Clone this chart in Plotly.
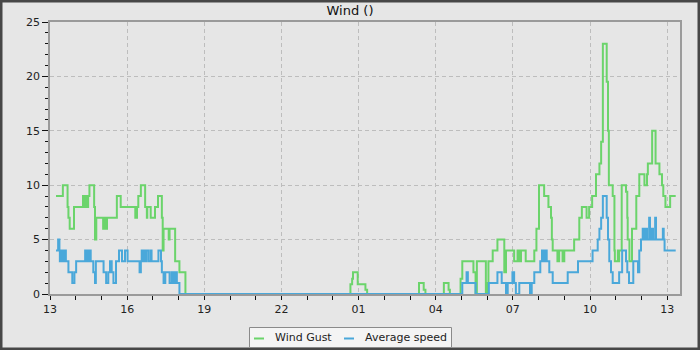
import plotly.graph_objects as go

D1 = "2024-01-01 "
D2 = "2024-01-02 "

gust_times = [D1 + t for t in [
    "13:14", "13:30", "13:41", "13:43", "13:46", "13:56", "14:17", "14:21", "14:23", "14:26",
    "14:29", "14:32", "14:43", "14:45", "14:48", "15:04", "15:07", "15:11", "15:13", "15:36",
    "15:45", "16:19", "16:23", "16:26", "16:32", "16:42", "16:46", "16:47", "16:55", "17:05",
    "17:12", "17:21", "17:23", "17:25", "17:37", "17:39", "17:52", "18:02", "18:16"]] + [D2 + t for t in [
    "00:41", "00:45", "00:47", "00:58", "01:16", "01:20", "03:21", "03:32", "03:36", "04:19",
    "04:30", "04:33", "04:58", "05:02", "05:28", "05:33", "05:36", "05:57", "06:01", "06:03",
    "06:13", "06:24", "06:40", "06:44", "07:03", "07:11", "07:15", "07:19", "07:30", "07:50",
    "07:55", "08:01", "08:13", "08:23", "08:29", "08:31", "08:33", "08:44", "08:48", "08:56",
    "09:00", "09:23", "09:35", "09:41", "09:52", "09:58", "10:05", "10:14", "10:22", "10:26",
    "10:30", "10:39", "10:42", "10:44", "10:53", "10:57", "10:58", "11:05", "11:07", "11:08",
    "11:14", "11:24", "11:27", "11:28", "11:32", "11:38", "11:48", "11:55", "12:07", "12:13",
    "12:15", "12:25", "12:33", "12:42", "12:48", "12:51", "12:56", "13:07", "13:20"]]
gust_values = [
    9, 10, 8, 7, 6, 8, 9, 8, 9, 8,
    9, 10, 8, 5, 7, 6, 7, 6, 7, 9,
    8, 7, 8, 9, 10, 8, 7, 8, 7, 8,
    9, 7, 4, 6, 5, 6, 3, 2, 0,
    0.9, 1.4, 2, 0.9, 0.4, 0, 1, 0.4, 0, 1,
    0.4, 0, 1.4, 3, 2, 0, 3, 0, 1, 3,
    4, 5, 2, 4, 3, 4, 3, 4, 3, 4,
    6, 10, 9, 8, 7, 5, 4, 3, 4, 3,
    4, 5, 7, 8, 7, 8, 9, 11, 12, 14,
    23, 19.5, 15, 10, 9, 4, 3, 4, 3, 4,
    10, 9.4, 7, 5, 3, 6, 9, 11, 10, 11,
    12, 15, 12, 11, 10, 9, 8, 9, 9]

avg_times = [D1 + t for t in [
    "13:14", "13:19", "13:22", "13:23", "13:26", "13:29", "13:32", "13:34", "13:36", "13:37",
    "13:43", "13:52", "13:57", "14:01", "14:22", "14:24", "14:26", "14:29", "14:31", "14:35",
    "14:41", "14:45", "14:47", "15:05", "15:11", "15:16", "15:20", "15:24", "15:28", "15:34",
    "15:41", "15:48", "15:55", "16:01", "16:29", "16:32", "16:34", "16:37", "16:40", "16:44",
    "16:45", "16:50", "16:55", "16:57", "17:13", "17:19", "17:21", "17:25", "17:29", "17:39",
    "17:44", "17:48", "17:52", "17:56", "18:02"]] + [D2 + t for t in [
    "05:02", "05:12", "05:15", "05:33", "06:04", "06:24", "06:34", "06:44", "06:48", "06:59",
    "07:03", "07:07", "07:15", "07:40", "07:44", "07:50", "08:04", "08:08", "08:12", "08:16",
    "08:19", "08:25", "08:33", "09:08", "09:32", "10:06", "10:18", "10:22", "10:26", "10:30",
    "10:39", "10:42", "10:45", "10:49", "10:53", "11:08", "11:15", "11:24", "11:27", "11:31",
    "11:41", "11:52", "11:55", "11:59", "12:03", "12:07", "12:11", "12:13", "12:18", "12:20",
    "12:24", "12:27", "12:32", "12:34", "12:50", "12:52", "12:54", "13:20"]]
avg_values = [
    4, 5, 4, 3, 4, 3, 4, 3, 4, 3,
    2, 1, 2, 3, 4, 3, 4, 3, 4, 3,
    2, 1, 3, 2, 1, 2, 3, 2, 1, 3,
    4, 3, 4, 3, 2, 3, 4, 3, 4, 3,
    4, 3, 4, 3, 4, 3, 2, 1, 2, 1,
    2, 1, 2, 1, 0,
    1, 2, 1, 0, 1, 2, 1, 0, 1, 2,
    1, 0, 1, 0, 1, 2, 3, 4, 3, 4,
    3, 2, 1, 2, 3, 4, 5, 6, 7, 9,
    7, 5, 3, 2, 1, 2, 4, 3, 2, 1,
    3, 2, 4, 5, 6, 5, 6, 5, 7, 5,
    6, 5, 7, 5, 6, 5, 4, 4]

series_names = ["Wind Gust", "Average speed"]
series_colors = ["#6bd46b", "#4aa8da"]
title_text = "Wind ()"

FONT = "DejaVu Sans"

fig = go.Figure()
fig.add_trace(go.Scatter(x=gust_times, y=gust_values, name=series_names[0], mode="lines",
                         line=dict(color=series_colors[0], width=2, shape="hv")))
fig.add_trace(go.Scatter(x=avg_times, y=avg_values, name=series_names[1], mode="lines",
                         line=dict(color=series_colors[1], width=2, shape="hv")))

W, H = 700, 350
ml, mr, mt, mb = 50, 20, 22, 56
pw, ph = W - ml - mr, H - mt - mb

def px_x(p):
    return (p - ml) / pw

def px_y(p):
    return (H - mb - p) / ph

# outer frame
fig.add_shape(type="rect", xref="paper", yref="paper",
              x0=px_x(1.25), x1=px_x(W - 1.25), y0=px_y(H - 1.25), y1=px_y(1.25),
              line=dict(color="#474747", width=2.5), fillcolor="#e6e6e6", layer="below")

# legend box (drawn as a compact legend like the original)
fig.add_shape(type="rect", xref="paper", yref="paper",
              x0=px_x(249.5), x1=px_x(451.5), y0=px_y(347.5), y1=px_y(327.5),
              line=dict(color="#8a8a8a", width=1), fillcolor="#f4f4f4", layer="above")
legend_sym_x = [254, 344]
legend_text_x = [272.5, 362.5]
for name, color, sx, tx in zip(series_names, series_colors, legend_sym_x, legend_text_x):
    fig.add_shape(type="line", xref="paper", yref="paper",
                  x0=px_x(sx), x1=px_x(sx + 10), y0=px_y(338.5), y1=px_y(338.5),
                  line=dict(color=color, width=2), layer="above")
    fig.add_annotation(text=name, xref="paper", yref="paper", x=px_x(tx), y=px_y(337.5),
                       xanchor="left", yanchor="middle", showarrow=False,
                       font=dict(family=FONT, size=11, color="#222222"))

GRID_DASH = "4px,3px"

fig.update_layout(
    width=W, height=H,
    margin=dict(l=ml, r=mr, t=mt, b=mb, autoexpand=False),
    paper_bgcolor="#e6e6e6", plot_bgcolor="#e6e6e6",
    font=dict(family=FONT, size=11, color="#222222"),
    title=dict(text=title_text, x=0.5, xanchor="center", xref="container",
               y=1 - 10 / H, yanchor="middle", yref="container",
               font=dict(family=FONT, size=13, color="#111111")),
    showlegend=False,
    xaxis=dict(type="date", range=[D1 + "13:00", D2 + "13:30"],
               tick0=D1 + "13:00", dtick=3 * 3600000, tickformat="%H",
               showgrid=True, gridcolor="#bdbdbd", griddash=GRID_DASH, gridwidth=1,
               showline=True, linecolor="#9a9a9a", linewidth=1.5, mirror=True,
               ticks="outside", ticklen=4, tickcolor="#111111", tickwidth=1,
               minor=dict(dtick=3600000, ticks="outside", ticklen=4, tickcolor="#111111",
                          showgrid=False),
               zeroline=False, fixedrange=True,
               tickfont=dict(family=FONT, size=11, color="#222222")),
    yaxis=dict(range=[0, 25], dtick=5, tick0=0,
               showgrid=True, gridcolor="#bdbdbd", griddash=GRID_DASH, gridwidth=1,
               showline=True, linecolor="#9a9a9a", linewidth=1.5, mirror=True,
               ticks="outside", ticklen=6, tickcolor="#111111", tickwidth=1,
               minor=dict(dtick=1, ticks="outside", ticklen=3, tickcolor="#111111",
                          showgrid=False),
               zeroline=False, fixedrange=True,
               tickfont=dict(family=FONT, size=11, color="#222222")),
)

fig.write_html("out.html")
